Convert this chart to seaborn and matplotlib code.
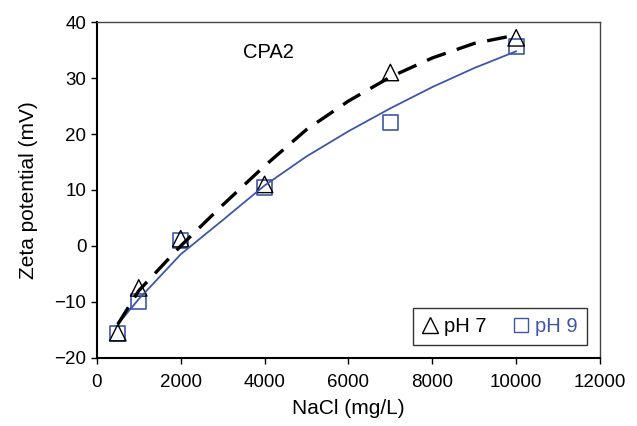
import matplotlib
matplotlib.use("Agg")
import matplotlib.pyplot as plt
import pandas as pd
import seaborn as sns
from matplotlib.lines import Line2D

# measured zeta potential (mV) vs NaCl (mg/L)
nacl = [500, 1000, 2000, 4000, 7000, 10000]
zeta_ph7 = [-15.5, -7.5, 1.3, 11, 31, 37.2]
zeta_ph9 = [-15.7, -10, 1, 10.5, 22, 35.6]

# trend lines
fit_x = [500, 1000, 1500, 2000, 3000, 4000, 5000, 6000, 7000, 8000, 9000, 10000]
fit_ph7 = [-14, -8, -4, 0, 7.3, 14.3, 20.8, 25.9, 30.2, 33.6, 36.2, 37.7]
fit_ph9 = [-14, -9.5, -5.5, -1.5, 4.6, 10.8, 16, 20.5, 24.6, 28.4, 31.8, 34.8]

blue = "#3F56A8"

sns.set_theme(style="ticks")
plt.rcParams["font.family"] = ["Liberation Sans", "DejaVu Sans"]
plt.rcParams["text.color"] = "black"
plt.rcParams["axes.labelcolor"] = "black"
plt.rcParams["xtick.color"] = "black"
plt.rcParams["ytick.color"] = "black"

fig = plt.figure(figsize=(6.37, 4.26), dpi=100)
ax = fig.add_axes([0.152, 0.160, 0.790, 0.788])

fits = pd.DataFrame({"x": fit_x, "ph7": fit_ph7, "ph9": fit_ph9})
pts = pd.DataFrame({"x": nacl, "ph7": zeta_ph7, "ph9": zeta_ph9})

sns.scatterplot(data=pts, x="x", y="ph9", ax=ax, marker="s", s=120,
                facecolor="none", edgecolor=blue, linewidth=1.2, zorder=3)
sns.scatterplot(data=pts, x="x", y="ph7", ax=ax, marker="^", s=140,
                facecolor="none", edgecolor="black", linewidth=1.0, zorder=4)

sns.lineplot(data=fits, x="x", y="ph9", ax=ax, color=blue, lw=1.3, zorder=5)
sns.lineplot(data=fits, x="x", y="ph7", ax=ax, color="black", lw=2.4,
             dashes=False, linestyle=(0, (6, 3.5)), zorder=6)

ax.set_xlim(0, 12000)
ax.set_ylim(-20, 40)
ax.set_xticks(range(0, 12001, 2000))
ax.set_yticks(range(-20, 41, 10))
ax.tick_params(labelsize=13.5, direction="out", length=4.5, width=1)
ax.tick_params(axis="x", pad=7)
ax.tick_params(axis="y", pad=3)
ax.set_xlabel("NaCl (mg/L)", fontsize=15, labelpad=6)
ax.set_ylabel("Zeta potential (mV)", fontsize=15, labelpad=12)
for s in ["left", "bottom"]:
    ax.spines[s].set_linewidth(1.5)
    ax.spines[s].set_color("black")
for s in ["top", "right"]:
    ax.spines[s].set_linewidth(1.0)
    ax.spines[s].set_color("#444444")

ax.text(4100, 34.5, "CPA2", fontsize=14.5, ha="center", va="center")

handles = [
    Line2D([], [], marker="^", ls="none", markersize=12, markerfacecolor="none",
           markeredgecolor="black", markeredgewidth=1.0),
    Line2D([], [], marker="s", ls="none", markersize=10, markerfacecolor="none",
           markeredgecolor=blue, markeredgewidth=1.0),
]
leg = ax.legend(handles, ["pH 7", "pH 9"], ncol=2, loc="lower right",
                bbox_to_anchor=(0.974, 0.039), borderaxespad=0, fontsize=14.5,
                frameon=True, fancybox=False, edgecolor="black",
                handlelength=0.8, handletextpad=0.3, columnspacing=1.3,
                borderpad=0.45)
leg.get_frame().set_linewidth(1.0)
leg.get_texts()[1].set_color(blue)

fig.savefig("out.png", dpi=100)
